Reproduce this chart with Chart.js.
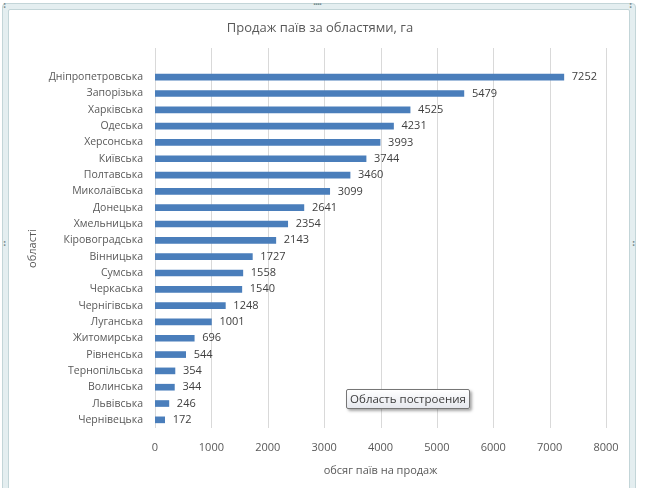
<!DOCTYPE html>
<html>
<head>
<meta charset="utf-8">
<script src="https://cdn.jsdelivr.net/npm/chart.js@4"></script>
<style>
  html, body { margin: 0; padding: 0; background: #fff; }
  body { width: 670px; height: 488px; position: relative; overflow: hidden; }
  .frame { position: absolute; left: 2px; top: 3px; width: 634px; height: 500px;
           border: 1px solid #c3d5d8; background: #e4eef0; border-radius: 4px; box-sizing: border-box; }
  .inner { position: absolute; left: 5px; top: 5px; right: 5px; bottom: 5px;
           border: 1px solid #c3d5d8; background: #fff; border-radius: 2px; }
  .dots { position: absolute; color: #7d8f92; font: bold 8px/8px "DejaVu Sans", sans-serif; letter-spacing: -1px; }
  canvas { position: absolute; left: 0; top: 0; }
  .tip { position: absolute; left: 346px; top: 389px; width: 124px; height: 20px; box-sizing: border-box;
         border: 1px solid #767676; border-radius: 2px; background: linear-gradient(#ffffff, #e6e8ee);
         box-shadow: 2px 2px 3px rgba(0,0,0,0.35);
         font: 11.5px "Open Sans", sans-serif; color: #3b3b3b; text-align: center; line-height: 18px; }
</style>
</head>
<body>
<div class="frame"><div class="inner"></div></div>
<div class="dots" style="left:313px;top:-1px;">....</div>
<div class="dots" style="left:3px;top:2px;">:</div>
<div class="dots" style="left:629px;top:2px;">:</div>
<div class="dots" style="left:3px;top:240px;">:</div>
<div class="dots" style="left:632px;top:240px;">:</div>
<canvas id="chart" width="670" height="488"></canvas>
<div class="tip">Область построения</div>
<script>
var regions = ["Дніпропетровська", "Запорізька", "Харківська", "Одеська", "Херсонська", "Київська",
  "Полтавська", "Миколаївська", "Донецька", "Хмельницька", "Кіровоградська", "Вінницька",
  "Сумська", "Черкаська", "Чернігівська", "Луганська", "Житомирська", "Рівненська",
  "Тернопільська", "Волинська", "Львівська", "Чернівецька"];
var sales = [7252, 5479, 4525, 4231, 3993, 3744, 3460, 3099, 2641, 2354, 2143, 1727,
  1558, 1540, 1248, 1001, 696, 544, 354, 344, 246, 172];
var xTicks = [0, 1000, 2000, 3000, 4000, 5000, 6000, 7000, 8000];

var chartTitle = "Продаж паїв за областями, га";
var fontFam = "'Open Sans', sans-serif";
var textCol = "#595959";

// vertical gridlines, drawn a bit above the plot like in excel
var gridPlugin = {
  id: 'grid',
  beforeDatasetsDraw: function(chart) {
    var ctx = chart.ctx, x = chart.scales.x, area = chart.chartArea;
    ctx.save();
    ctx.strokeStyle = "#d9d9d9";
    ctx.lineWidth = 1;
    xTicks.forEach(function(v) {
      var px = Math.round(x.getPixelForValue(v)) + 0.5;
      ctx.beginPath();
      ctx.moveTo(px, area.top - 21);
      ctx.lineTo(px, area.bottom);
      ctx.stroke();
    });
    ctx.restore();
  }
};

var labelPlugin = {
  id: 'barLabels',
  afterDatasetsDraw: function(chart) {
    var ctx = chart.ctx;
    var meta = chart.getDatasetMeta(0);
    ctx.save();
    ctx.font = "11px " + fontFam;
    ctx.fillStyle = "#404040";
    ctx.textAlign = "left";
    ctx.textBaseline = "middle";
    meta.data.forEach(function(bar, i) {
      ctx.fillText(sales[i], bar.x + 8, bar.y);
    });
    // title
    ctx.font = "13px " + fontFam;
    ctx.fillStyle = textCol;
    ctx.textAlign = "center";
    ctx.fillText(chartTitle, 320, 28);
    ctx.restore();
  }
};

new Chart(document.getElementById("chart"), {
  type: 'bar',
  data: {
    labels: regions,
    datasets: [{
      data: sales,
      backgroundColor: "#4a7ebb",
      barThickness: 6
    }]
  },
  options: {
    indexAxis: 'y',
    responsive: false,
    animation: false,
    layout: { padding: { left: 0, right: 64, top: 69, bottom: 0 } },
    plugins: {
      legend: { display: false },
      tooltip: { enabled: false },
      title: { display: false }
    },
    scales: {
      x: {
        min: 0,
        max: 8000,
        afterFit: function(s) { s.height = 60; },
        grid: { display: false, drawTicks: false },
        border: { display: false },
        ticks: { stepSize: 1000, padding: 13, color: textCol, font: { family: fontFam, size: 11 },
                 callback: function(v) { return String(v); } },
        title: { display: true, text: "обсяг паїв на продаж", color: textCol,
                 font: { family: fontFam, size: 11 }, padding: { top: 0, bottom: 11 } }
      },
      y: {
        afterFit: function(s) { s.width = 155; },
        grid: { display: false, drawTicks: false },
        border: { display: false },
        ticks: { padding: 12, color: textCol, font: { family: fontFam, size: 10.5 } },
        title: { display: true, text: "області", color: textCol,
                 font: { family: fontFam, size: 11 }, padding: { top: 26, bottom: 0 } }
      }
    }
  },
  plugins: [gridPlugin, labelPlugin]
});
</script>
</body>
</html>
